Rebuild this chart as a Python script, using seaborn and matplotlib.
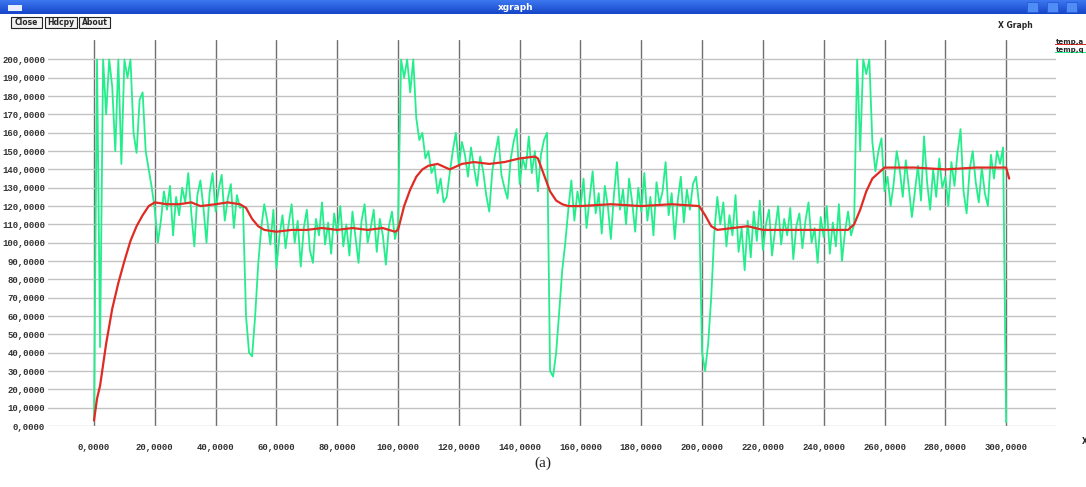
import matplotlib
matplotlib.use("Agg")
import matplotlib.pyplot as plt
import seaborn as sns
import numpy as np
import pandas as pd
from matplotlib.patches import Rectangle

# red trace (temp,a) : smooth response
red_x = [0, 1, 2, 4, 6, 8, 10, 12, 14, 16, 18, 20, 24, 28, 32, 35, 40, 44, 48, 50,
         52, 54, 56, 60, 65, 70, 75, 80, 85, 90, 95, 99, 100, 102, 104, 106, 108, 110,
         113, 117, 121, 125, 130, 135, 140, 145, 146, 148, 150, 152, 154, 156, 160,
         170, 180, 190, 199, 201, 203, 205, 210, 215, 220, 230, 240, 248, 250, 252,
         254, 256, 258, 260, 270, 280, 290, 300, 301]
red_y = [3, 15, 22, 45, 64, 78, 90, 101, 109, 115, 120, 122, 121, 121, 122, 120, 121,
         122, 121, 119, 113, 109, 107, 106, 107, 107, 108, 107, 108, 107, 108, 106, 107,
         120, 129, 136, 140, 142, 143, 140, 143, 144, 143, 144, 146, 147, 146, 137, 128,
         123, 121, 120, 120, 121, 120, 121, 120, 115, 109, 107, 108, 109, 107, 107, 107,
         107, 110, 118, 128, 135, 138, 141, 141, 140, 141, 141, 135]

# green trace (temp,q) : measured, one sample per time unit, 0..300
green_y = [
    3, 200, 43, 200, 170, 200, 185, 150, 200, 143, 200, 190, 200, 160, 149, 178, 182, 150, 140, 130,
    118, 100, 112, 128, 118, 131, 104, 125, 115, 130, 122, 138, 116, 98, 126, 134, 119, 100, 127, 138,
    117, 129, 137, 112, 124, 132, 108, 126, 119, 120, 60, 40, 38, 60, 88, 108, 121, 112, 99, 118,
    86, 104, 115, 97, 110, 121, 100, 112, 87, 108, 118, 96, 89, 113, 104, 122, 99, 111, 94, 116,
    105, 120, 98, 110, 93, 117, 103, 89, 112, 121, 100, 108, 118, 95, 113, 104, 88, 109, 117, 102,
    110, 200, 190, 200, 182, 200, 168, 156, 160, 146, 150, 138, 142, 127, 135, 122, 125, 138, 150, 160,
    142, 155, 148, 136, 152, 141, 131, 147, 139, 126, 117, 139, 149, 158, 137, 130, 124, 145, 155, 162,
    132, 146, 140, 158, 138, 150, 128, 148, 156, 160, 30, 27, 40, 62, 85, 100, 118, 134, 112, 128,
    119, 135, 108, 124, 139, 116, 127, 105, 131, 120, 102, 126, 144, 118, 129, 110, 135, 122, 106, 130,
    117, 138, 112, 125, 104, 133, 121, 128, 144, 115, 127, 102, 123, 136, 111, 129, 118, 132, 136, 121,
    40, 30, 45, 70, 105, 125, 110, 122, 98, 115, 104, 126, 95, 108, 85, 112, 92, 117, 101, 123,
    96, 110, 118, 93, 107, 120, 99, 113, 104, 119, 91, 109, 116, 97, 112, 122, 100, 108, 89, 114,
    103, 120, 94, 111, 98, 121, 90, 106, 117, 104, 110, 200, 150, 200, 192, 200, 155, 139, 150, 157,
    128, 136, 120, 132, 150, 140, 125, 145, 130, 114, 128, 142, 123, 158, 133, 118, 140, 125, 146, 130,
    136, 120, 144, 131, 149, 162, 128, 116, 140, 150, 133, 122, 141, 127, 120, 148, 135, 150, 143, 152,
    2]
green_x = np.arange(len(green_y))

x_ticks = list(range(0, 301, 20))
y_ticks = list(range(0, 201, 10))

W, H = 1086, 487


def fx(px):
    return px / W


def fy(py):
    return 1 - py / H


sns.set_style("white")
fig = plt.figure(figsize=(W / 100, H / 100), dpi=100)
fig.patch.set_facecolor("white")

ax = fig.add_axes([fx(48), fy(426), fx(1056) - fx(48), fy(40) - fy(426)])
ax.set_xlim(-15.13, 316.4)
ax.set_ylim(0, 210.6)

red_df = pd.DataFrame({"t": red_x, "v": red_y})
green_df = pd.DataFrame({"t": green_x, "v": green_y})
sns.lineplot(data=green_df, x="t", y="v", ax=ax, color="#24ee8c", lw=1.3,
             estimator=None, sort=False, zorder=3)
sns.lineplot(data=red_df, x="t", y="v", ax=ax, color="#e02b24", lw=1.6,
             estimator=None, sort=False, zorder=4)

ax.set_xticks(x_ticks)
ax.set_yticks(y_ticks)
ax.set_xticklabels([f"{v:.4f}".replace(".", ",") for v in x_ticks])
ax.set_yticklabels([f"{v:.4f}".replace(".", ",") for v in y_ticks])
ax.xaxis.grid(True, color="#707070", lw=1.0)
ax.yaxis.grid(True, color="#c2c2c2", lw=1.0)
ax.set_axisbelow(True)
for s in ax.spines.values():
    s.set_visible(False)
ax.tick_params(axis="x", length=10, width=1, color="#707070", pad=2)
ax.tick_params(axis="y", length=0, pad=2)
for lab in ax.get_xticklabels() + ax.get_yticklabels():
    lab.set_fontfamily("Liberation Mono")
    lab.set_fontweight("bold")
    lab.set_fontsize(6.5)
    lab.set_color("#333333")
ax.set_xlabel("")
ax.set_ylabel("")

# window title bar
bar = fig.add_axes([0, fy(14), 1, fy(0) - fy(14)])
grad = np.linspace(0, 1, 50).reshape(-1, 1)
bar.imshow(grad, aspect="auto", cmap=matplotlib.colors.LinearSegmentedColormap.from_list(
    "tb", ["#3d78f0", "#1645c8"]), extent=[0, 1, 0, 1])
bar.axis("off")
fig.patches.append(Rectangle((fx(8), fy(11)), fx(14), fy(5) - fy(11), transform=fig.transFigure,
                             facecolor="#e8eefc", edgecolor="none", zorder=5))
fig.text(fx(516), fy(7), "xgraph", color="white", fontsize=6.5, fontweight="bold",
         ha="center", va="center", zorder=6)
for x0 in (1027, 1047, 1066):
    fig.patches.append(Rectangle((fx(x0), fy(12)), fx(11), fy(2) - fy(12), transform=fig.transFigure,
                                 facecolor="#4f8cf5", edgecolor="#2a5ad8", lw=0.6, zorder=5))

# buttons
for label, x0, x1 in (("Close", 11, 42), ("Hdcpy", 45, 77), ("About", 79, 110)):
    fig.patches.append(Rectangle((fx(x0), fy(28)), fx(x1 - x0), fy(17) - fy(28),
                                 transform=fig.transFigure, facecolor="#f2f2f2",
                                 edgecolor="#222222", lw=0.8, zorder=5))
    fig.text(fx((x0 + x1) / 2), fy(22.5), label, fontsize=5.5, fontweight="bold",
             family="DejaVu Sans", ha="center", va="center", zorder=6)

fig.text(fx(1015), fy(26), "X Graph", fontsize=5.5, fontweight="bold",
         family="DejaVu Sans", ha="center", va="center")

# legend
for name, col, py in (("temp,a", "#e02b24", 43), ("temp,q", "#24ee8c", 51)):
    fig.patches.append(Rectangle((fx(1055), fy(py + 2)), fx(40), fy(py + 1) - fy(py + 2),
                                 transform=fig.transFigure, facecolor=col, edgecolor="none"))
    fig.text(fx(1056), fy(py - 1), name, fontsize=5, fontweight="bold",
             family="DejaVu Sans", ha="left", va="center")

fig.text(fx(1082), fy(441), "X", fontsize=5.5, fontweight="bold", ha="left", va="center")
fig.text(fx(543), fy(463), "(a)", fontsize=11, family="Liberation Serif",
         ha="center", va="center")

fig.savefig("out.png", dpi=100)
